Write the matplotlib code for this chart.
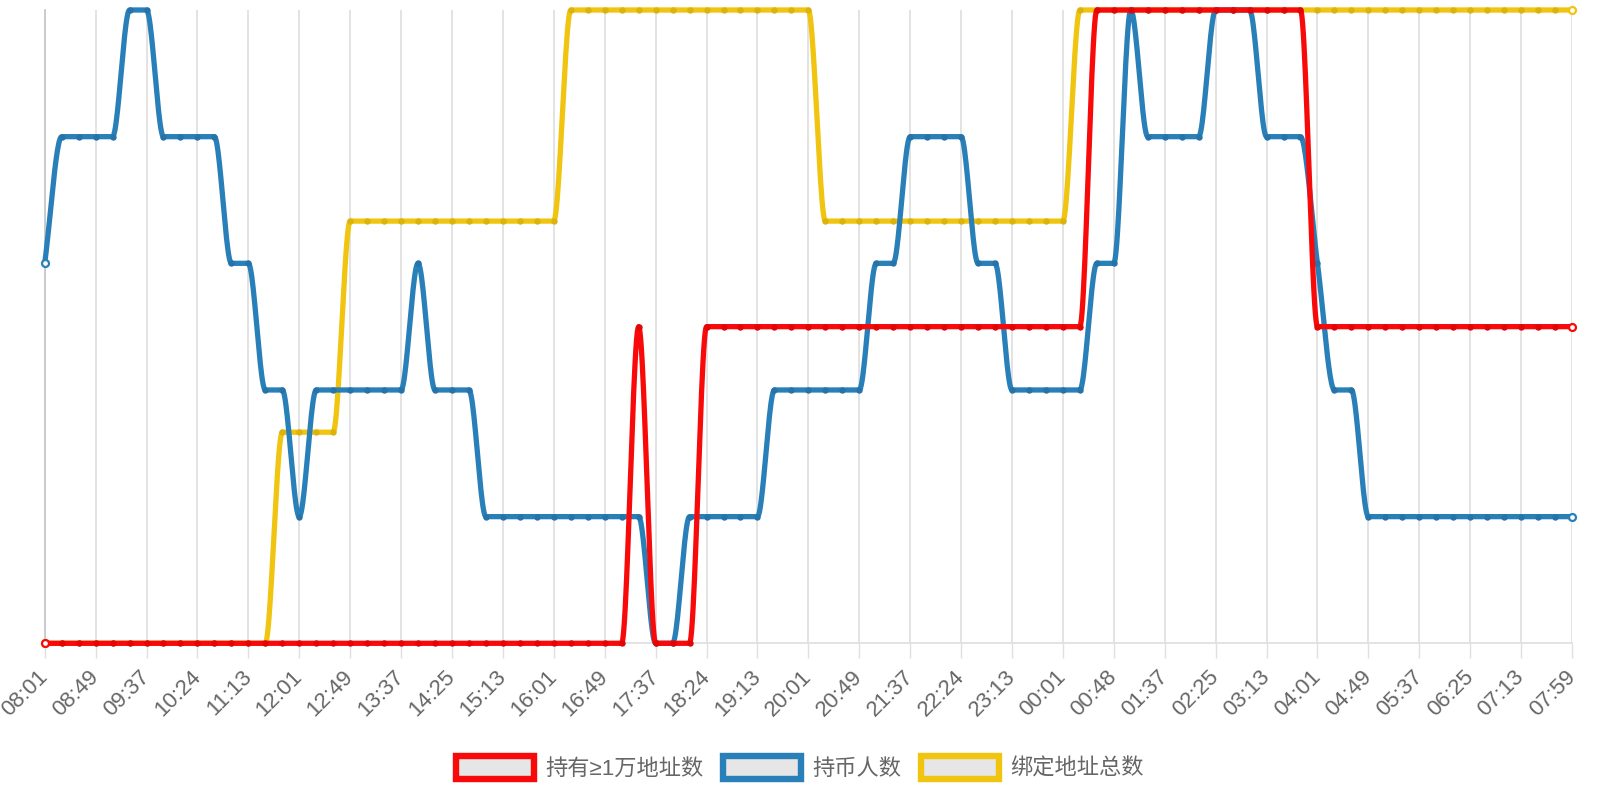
import numpy as np
import matplotlib.pyplot as plt
from matplotlib.patches import Patch

# tick labels (one per 3 points)
tick_labels = ['08:01', '08:49', '09:37', '10:24', '11:13', '12:01', '12:49', '13:37',
               '14:25', '15:13', '16:01', '16:49', '17:37', '18:24', '19:13', '20:01',
               '20:49', '21:37', '22:24', '23:13', '00:01', '00:48', '01:37', '02:25',
               '03:13', '04:01', '04:49', '05:37', '06:25', '07:13', '07:59']

# series values (relative levels, 91 points)
holders_10k = [0] * 35 + [1] + [0] * 3 + [1] * 23 + [2] * 13 + [1] * 16
holders = ([3] + [4] * 4 + [5] * 2 + [4] * 4 + [3] * 2 + [2] * 2 + [1] + [2] * 6 + [3]
           + [2] * 3 + [1] * 10 + [0] * 2 + [1] * 5 + [2] * 6 + [3] * 2 + [4] * 4
           + [3] * 2 + [2] * 5 + [3] * 2 + [5] + [4] * 4 + [5] * 3 + [4] * 3 + [3]
           + [2] * 2 + [1] * 13)
bound_total = [0] * 14 + [1] * 4 + [2] * 13 + [3] * 15 + [2] * 15 + [3] * 30

names = ['持有≥1万地址数', '持币人数', '绑定地址总数']
colors = ['#f90a0a', '#2980b9', '#f1c40f']
dot_colors = ['#e00606', '#2573a8', '#dcb20c']


def monotone(y, steps=24):
    # monotone cubic (same idea as chart.js "monotone")
    y = np.asarray(y, float)
    n = len(y)
    d = np.diff(y)
    m = np.zeros(n)
    m[0], m[-1] = d[0], d[-1]
    for k in range(1, n - 1):
        if d[k - 1] * d[k] > 0:
            m[k] = (d[k - 1] + d[k]) / 2
    for k in range(n - 1):
        if d[k] == 0:
            m[k] = m[k + 1] = 0
            continue
        a, b = m[k] / d[k], m[k + 1] / d[k]
        s = a * a + b * b
        if s > 9:
            t = 3 / np.sqrt(s)
            m[k], m[k + 1] = t * a * d[k], t * b * d[k]
    xs, ys = [], []
    t = np.linspace(0, 1, steps, endpoint=False)
    h00 = 2 * t**3 - 3 * t**2 + 1
    h10 = t**3 - 2 * t**2 + t
    h01 = -2 * t**3 + 3 * t**2
    h11 = t**3 - t**2
    for k in range(n - 1):
        xs.append(k + t)
        ys.append(h00 * y[k] + h10 * m[k] + h01 * y[k + 1] + h11 * m[k + 1])
    xs.append([n - 1])
    ys.append([y[-1]])
    return np.concatenate(xs), np.concatenate(ys)


fig = plt.figure(figsize=(16, 8), dpi=100)
ax = fig.add_axes([44.7 / 1600, 1 - 643.3 / 800, (1572 - 44.7) / 1600, (643.3 - 10) / 800])
ax_b = ax.twinx()
ax_r = ax.twinx()

x = np.arange(len(holders))
for a, vals, c, dc in [(ax, bound_total, colors[2], dot_colors[2]),
                       (ax_b, holders, colors[1], dot_colors[1]),
                       (ax_r, holders_10k, colors[0], dot_colors[0])]:
    sx, sy = monotone(vals)
    a.plot(sx, sy, color=c, lw=3.8, solid_capstyle='round', clip_on=False, zorder=3)
    a.plot(x[1:-1], vals[1:-1], 'o', color=dc, ms=4.6, mew=0, clip_on=False, zorder=4)
    a.plot(x[[0, -1]], [vals[0], vals[-1]], 'o', mfc='white', mec=c, ms=5, mew=1.6,
           clip_on=False, zorder=4)
    a.set_ylim(min(vals), max(vals))
    a.set_yticks([])
    for s in a.spines.values():
        s.set_visible(False)

ax.set_xlim(0, len(holders) - 1)
ax.set_xticks(x[::3])
ax.set_xticklabels(tick_labels, rotation=45, ha='right', va='center',
                   rotation_mode='anchor', fontsize=16, color='#666666',
                   family='Liberation Sans')
ax.tick_params(axis='x', length=11, width=1, color='#e0e0e0', pad=11)
ax.grid(axis='x', color='#e0e0e0', lw=1.3)
ax.spines['bottom'].set_visible(True)
ax.spines['bottom'].set_color('#e0e0e0')
ax.spines['bottom'].set_linewidth(1.3)
ax.spines['left'].set_visible(True)
ax.spines['left'].set_color('#c8c8c8')
ax.spines['left'].set_linewidth(1.3)
ax_b.tick_params(axis='x', length=0)
ax_r.tick_params(axis='x', length=0)

handles = [Patch(facecolor='#e6e6e6', edgecolor=c, linewidth=4.6) for c in colors]
fig.legend(handles, names, loc='center', bbox_to_anchor=(0.5, 1 - 768 / 800), ncol=3,
           frameon=False, handlelength=3.5, handleheight=1.2, handletextpad=0.5,
           columnspacing=0.9, borderaxespad=0,
           prop={'family': ['Liberation Sans', 'Noto Sans CJK SC'], 'size': 16},
           labelcolor='#666666')

fig.savefig('out.png', dpi=100)
